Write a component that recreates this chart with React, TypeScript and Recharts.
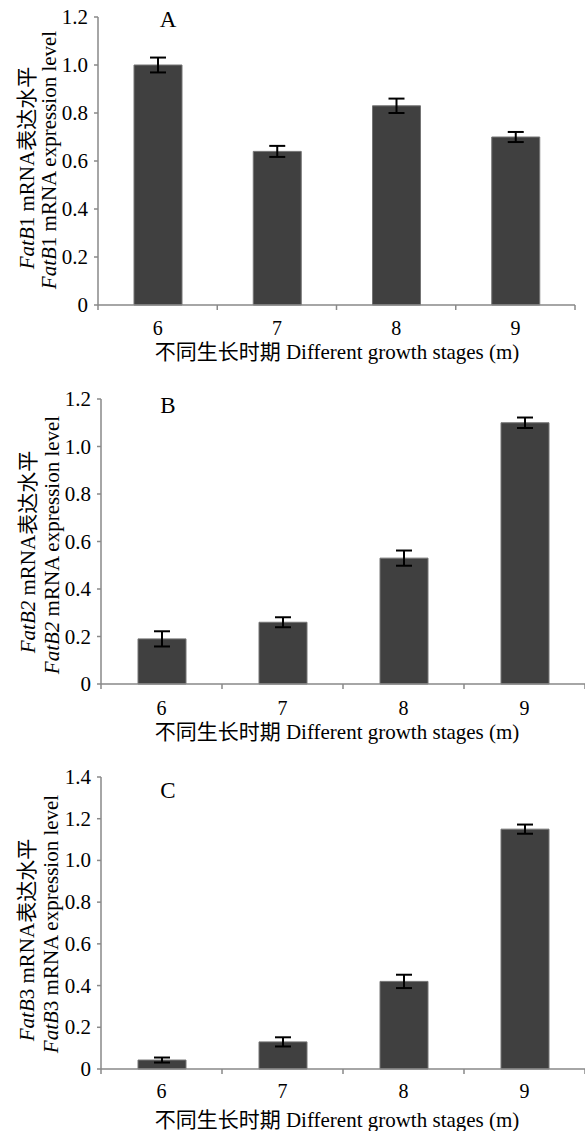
import { BarChart, Bar, XAxis, YAxis, ErrorBar, Label } from "recharts";

const stages = ["6", "7", "8", "9"];
const fatB1 = [1.0, 0.64, 0.83, 0.7];
const fatB1Err = [0.031, 0.023, 0.03, 0.021];
const fatB2 = [0.19, 0.26, 0.53, 1.1];
const fatB2Err = [0.032, 0.021, 0.032, 0.022];
const fatB3 = [0.043, 0.13, 0.42, 1.15];
const fatB3Err = [0.012, 0.022, 0.032, 0.022];
const ticksAB = [0, 0.2, 0.4, 0.6, 0.8, 1.0, 1.2];
const ticksC = [0, 0.2, 0.4, 0.6, 0.8, 1.0, 1.2, 1.4];
const xTitle = "不同生长时期 Different growth stages (m)";

const FONT = "'Liberation Serif', 'Times New Roman', 'Noto Sans CJK SC', serif";
const AXIS = "#898989";
const BAR = "#404040";

type PanelProps = {
  top: number;
  height: number;
  plotTop: number;
  plotBottom: number;
  plotLeft: number;
  plotRight: number;
  values: number[];
  errors: number[];
  ticks: number[];
  letter: string;
  letterY: number;
  gene: string;
  italicDigit: boolean;
  label1: [number, number];
  label2: [number, number];
  tickDy: number;
  titleDy: number;
};

// y tick label, Times-like, right aligned
const YTick = (props: any) => {
  const { x, y, payload } = props;
  const v = payload.value as number;
  return (
    <text x={x} y={y + 7} textAnchor="end" fontSize={21} fill="#000" fontFamily={FONT}>
      {v === 0 ? "0" : v.toFixed(1)}
    </text>
  );
};

function Panel(p: PanelProps) {
  const data = stages.map((s, i) => ({ stage: s, value: p.values[i], err: p.errors[i] }));
  const half = (p.plotRight - p.plotLeft) / stages.length / 2;
  const digit = p.gene.slice(4);

  // category label + tick marks on the band edges (Excel style)
  const Tick = (props: any) => {
    const { x, y, payload, index } = props;
    const axisY = y - 5;
    const h = payload?.offset || half;
    return (
      <g>
        <line x1={x - h} x2={x - h} y1={axisY} y2={axisY + 5} stroke={AXIS} strokeWidth={1.5} />
        {index === stages.length - 1 && (
          <line x1={x + h} x2={x + h} y1={axisY} y2={axisY + 5} stroke={AXIS} strokeWidth={1.5} />
        )}
        <text x={x} y={axisY + p.tickDy + 6} textAnchor="middle" fontSize={20} fill="#000" fontFamily={FONT}>
          {payload.value}
        </text>
        {index === 0 && (
          <text x={337} y={axisY + p.titleDy + 8} textAnchor="middle" fontSize={21} fill="#000" fontFamily={FONT}>
            {xTitle}
          </text>
        )}
      </g>
    );
  };

  const YTitle = () => (
    <g fontFamily={FONT} fontSize={21} fill="#000">
      <text
        transform={`translate(${p.label1[0]},${p.label1[1]}) rotate(-90)`}
        textAnchor="middle"
        dominantBaseline="central"
      >
        <tspan fontStyle="italic">FatB</tspan>
        <tspan fontStyle={p.italicDigit ? "italic" : "normal"}>{digit}</tspan>
        {" mRNA表达水平"}
      </text>
      <text
        transform={`translate(${p.label2[0]},${p.label2[1]}) rotate(-90)`}
        textAnchor="middle"
        dominantBaseline="central"
      >
        <tspan fontStyle="italic">FatB</tspan>
        <tspan fontStyle={p.italicDigit ? "italic" : "normal"}>{digit}</tspan>
        {" mRNA expression level"}
      </text>
      <text x={168} y={p.letterY + 8} textAnchor="middle" fontSize={23}>
        {p.letter}
      </text>
    </g>
  );

  return (
    <div style={{ position: "absolute", left: 0, top: p.top }}>
      <BarChart
        width={585}
        height={p.height}
        data={data}
        margin={{ top: p.plotTop, right: 585 - p.plotRight, bottom: 0, left: 0 }}
      >
        <XAxis
          dataKey="stage"
          height={p.height - p.plotBottom}
          axisLine={{ stroke: AXIS, strokeWidth: 1.5 }}
          tickLine={false}
          tickSize={5}
          tickMargin={0}
          interval={0}
          tick={<Tick />}
        />
        <YAxis
          width={p.plotLeft}
          domain={[0, p.ticks[p.ticks.length - 1]]}
          ticks={p.ticks}
          interval={0}
          axisLine={{ stroke: AXIS, strokeWidth: 1.5 }}
          tickLine={{ stroke: AXIS, strokeWidth: 1.5 }}
          tickSize={4}
          tickMargin={6}
          tick={<YTick />}
        >
          <Label content={<YTitle />} />
        </YAxis>
        <Bar dataKey="value" fill={BAR} stroke="#747474" strokeWidth={1} barSize={48} isAnimationActive={false}>
          <ErrorBar dataKey="err" width={8} stroke="#000" strokeWidth={2} isAnimationActive={false} />
        </Bar>
      </BarChart>
    </div>
  );
}

export default function App() {
  return (
    <div style={{ position: "absolute", left: 0, top: 0, width: 585, height: 1131, background: "#fff" }}>
      <Panel
        top={0}
        height={380}
        plotTop={17}
        plotBottom={305}
        plotLeft={98}
        plotRight={575}
        values={fatB1}
        errors={fatB1Err}
        ticks={ticksAB}
        letter="A"
        letterY={19}
        gene="FatB1"
        italicDigit={false}
        label1={[27, 168]}
        label2={[49, 160]}
        tickDy={24}
        titleDy={46}
      />
      <Panel
        top={380}
        height={380}
        plotTop={19}
        plotBottom={304}
        plotLeft={101}
        plotRight={585}
        values={fatB2}
        errors={fatB2Err}
        ticks={ticksAB}
        letter="B"
        letterY={25}
        gene="FatB2"
        italicDigit={true}
        label1={[28, 172]}
        label2={[52, 165]}
        tickDy={25}
        titleDy={47}
      />
      <Panel
        top={760}
        height={371}
        plotTop={17}
        plotBottom={309}
        plotLeft={101}
        plotRight={585}
        values={fatB3}
        errors={fatB3Err}
        ticks={ticksC}
        letter="C"
        letterY={30}
        gene="FatB3"
        italicDigit={false}
        label1={[27, 180]}
        label2={[51, 164]}
        tickDy={23}
        titleDy={50}
      />
    </div>
  );
}
